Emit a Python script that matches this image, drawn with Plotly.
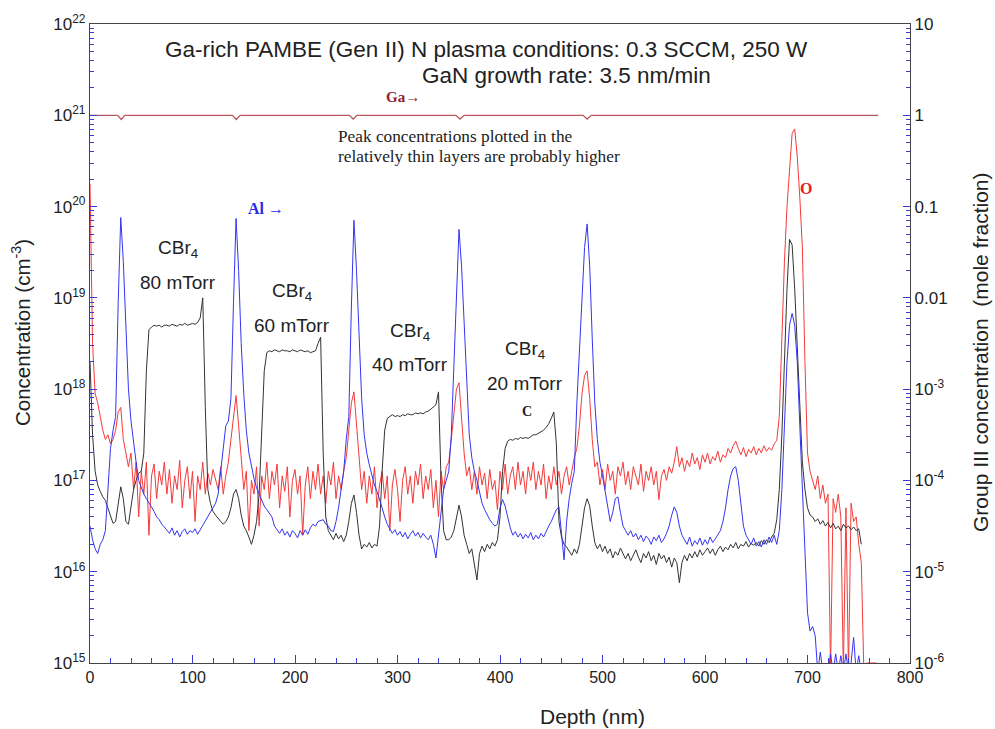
import plotly.graph_objects as go

# ---------------- data (log10 of concentration, cm^-3), sampled every 2.5 nm from 0 nm ----------------
DEPTH_STEP = 2.5

al_log = [
    16.5, 16.35, 16.25, 16.2, 16.3, 16.35, 16.45, 16.85, 17.35, 17.55,
    17.7, 18.95, 19.88, 19.4, 18.6, 18.0, 17.65, 17.4, 17.2, 17.0,
    16.92, 16.85, 16.8, 16.76, 16.71, 16.66, 16.6, 16.57, 16.52, 16.49,
    16.45, 16.42, 16.48, 16.4, 16.45, 16.38, 16.44, 16.47, 16.41, 16.45,
    16.43, 16.47, 16.41, 16.46, 16.5, 16.55, 16.6, 16.66, 16.7, 16.75,
    16.85, 17.1, 17.4, 17.6, 17.65, 17.9, 18.95, 19.87, 19.3, 18.5,
    17.95, 17.55, 17.3, 17.15, 17.02, 16.92, 16.85, 16.78, 16.72, 16.68,
    16.64, 16.6, 16.5, 16.46, 16.42, 16.47, 16.4, 16.44, 16.38, 16.45,
    16.42, 16.37, 16.45, 16.4, 16.46, 16.41, 16.48, 16.52, 16.5, 16.55,
    16.56, 16.57, 16.52, 16.5, 16.45, 16.44, 16.55, 16.7, 16.9, 17.1,
    17.45, 17.7, 18.9, 19.85, 19.3, 18.5, 17.9, 17.5, 17.3, 17.17,
    17.05, 16.95, 16.88, 16.8, 16.7, 16.6, 16.52, 16.47, 16.42, 16.46,
    16.4, 16.44, 16.38, 16.43, 16.36, 16.41, 16.45, 16.39, 16.43, 16.37,
    16.42, 16.38, 16.35, 16.4, 16.3, 16.15, 16.4, 16.65, 16.9, 17.0,
    17.1, 17.5, 18.2, 19.0, 19.75, 19.35, 18.7, 18.05, 17.5, 17.25,
    17.1, 17.0, 16.88, 16.75, 16.68, 16.62, 16.57, 16.53, 16.5, 16.52,
    16.7, 16.79, 16.72, 16.6, 16.48, 16.4, 16.44, 16.38, 16.42, 16.36,
    16.41, 16.37, 16.43, 16.35, 16.4, 16.36, 16.42, 16.38, 16.45, 16.5,
    16.55, 16.62, 16.68, 16.71, 16.4, 16.13, 16.55, 16.8, 16.97, 17.1,
    17.85, 18.4, 19.0, 19.55, 19.81, 19.35, 18.55, 17.85, 17.45, 17.2,
    17.05, 16.9, 16.72, 16.55, 16.65, 16.8, 16.82, 16.65, 16.5, 16.45,
    16.4, 16.45, 16.38, 16.42, 16.35, 16.4, 16.33, 16.39, 16.36, 16.3,
    16.38, 16.34, 16.4, 16.32, 16.36, 16.42, 16.5, 16.62, 16.71, 16.65,
    16.5, 16.4, 16.35, 16.3, 16.38, 16.28, 16.34, 16.3, 16.37, 16.29,
    16.35, 16.3, 16.38, 16.32, 16.36, 16.4, 16.45, 16.55, 16.7, 16.9,
    17.05, 17.13, 17.15, 17.0, 16.75, 16.5, 16.4, 16.35, 16.3, 16.37,
    16.28, 16.33, 16.27, 16.35, 16.3, 16.38, 16.32, 16.4, 16.3, 16.45,
    16.9, 17.6, 18.3, 18.7, 18.83, 18.7, 18.3, 17.6, 16.9, 16.2,
    15.55, 15.35, 15.4, 15.3, 14.9, 15.12, 14.9, 15.0, 14.9, 15.1,
    14.9, 15.1, 14.9, 15.08, 14.9, 15.1, 14.9, 15.0, 15.28, 14.9,
    15.08, 14.9,
]

c_log = [
    18.3, 17.5, 17.1, 16.95, 16.88, 16.82, 16.78, 16.7, 16.6, 16.53,
    16.55, 16.75, 16.93, 16.8, 16.55, 16.52, 16.7, 16.9, 17.0, 17.08,
    17.1, 17.3, 18.2, 18.65, 18.68, 18.7, 18.69, 18.7, 18.68, 18.7,
    18.7, 18.69, 18.71, 18.7, 18.69, 18.71, 18.7, 18.72, 18.7, 18.71,
    18.72, 18.71, 18.73, 18.78, 19.0, 17.8, 16.9, 16.75, 16.66, 16.62,
    16.58, 16.55, 16.52, 16.55, 16.6, 16.7, 16.85, 16.9, 16.8, 16.62,
    16.5, 16.45, 16.38, 16.3, 16.4, 16.55, 16.85, 17.5, 18.2, 18.4,
    18.42, 18.41, 18.43, 18.42, 18.41, 18.43, 18.42, 18.42, 18.41, 18.43,
    18.42, 18.41, 18.43, 18.42, 18.41, 18.42, 18.4, 18.41, 18.42, 18.5,
    18.57, 17.3, 16.6, 16.45, 16.4, 16.35, 16.42, 16.36, 16.4, 16.33,
    16.4, 16.55, 16.75, 16.84, 16.65, 16.4, 16.25, 16.3, 16.27, 16.32,
    16.26, 16.3, 16.28, 16.5, 17.1, 17.55, 17.68, 17.7, 17.72, 17.7,
    17.71, 17.7, 17.72, 17.71, 17.73, 17.72, 17.72, 17.74, 17.73, 17.74,
    17.73, 17.75, 17.76, 17.78, 17.8, 17.83, 17.97, 17.0, 16.45, 16.35,
    16.35, 16.38, 16.45, 16.6, 16.73, 16.6, 16.4, 16.3, 16.2, 16.25,
    16.1, 15.91, 16.2, 16.28, 16.22, 16.3, 16.25, 16.32, 16.28, 16.35,
    16.6, 17.1, 17.35, 17.43, 17.45, 17.44, 17.46, 17.45, 17.47, 17.46,
    17.47, 17.46, 17.48, 17.5, 17.5, 17.52, 17.53, 17.55, 17.58, 17.62,
    17.68, 17.75, 17.4, 16.55, 16.38, 16.3, 16.27, 16.22, 16.18, 16.25,
    16.2, 16.3, 16.5, 16.7, 16.8, 16.72, 16.5, 16.32, 16.25, 16.3,
    16.22, 16.28, 16.2, 16.25, 16.15, 16.22, 16.18, 16.26, 16.2, 16.14,
    16.2, 16.12, 16.18, 16.24, 16.16, 16.1, 16.2, 16.15, 16.22, 16.12,
    16.18, 16.08, 16.2, 16.14, 16.18, 16.1, 16.16, 16.05, 16.15, 16.1,
    15.88, 16.1, 16.18, 16.12, 16.2, 16.15, 16.22, 16.16, 16.24, 16.18,
    16.22, 16.26, 16.2, 16.25, 16.18, 16.24, 16.28, 16.22, 16.27, 16.24,
    16.3, 16.26, 16.32, 16.25, 16.3, 16.28, 16.33, 16.27, 16.31, 16.29,
    16.32, 16.28, 16.34, 16.3, 16.35, 16.32, 16.38, 16.42, 16.57, 16.9,
    17.5, 18.3, 19.1, 19.64, 19.58, 19.1, 18.5, 17.75, 17.2, 16.9,
    16.7, 16.62, 16.6, 16.55, 16.58, 16.52, 16.56, 16.5, 16.54, 16.48,
    16.53, 16.47, 16.5, 16.45, 16.52, 16.48, 16.5, 16.46, 16.49, 16.45,
    16.47, 16.3,
]

o_log = [
    20.25, 18.5, 17.95, 17.85, 17.7, 17.55, 17.45, 17.5, 17.4, 17.45,
    17.55, 17.75, 17.8, 17.45, 17.3, 17.15, 17.3, 16.9, 17.2, 16.6,
    17.1, 16.85, 17.2, 16.4, 17.05, 17.18, 16.8, 17.1, 16.95, 17.2,
    16.85, 17.12, 16.75, 17.05, 16.9, 17.22, 16.7, 17.0, 17.15, 16.8,
    17.1, 16.55, 17.05, 16.9, 17.2, 16.85, 17.08, 16.95, 17.12, 17.0,
    16.9, 17.15, 16.85, 17.05, 17.2, 17.45, 17.7, 17.93, 17.6, 17.2,
    16.9, 17.1, 16.45, 17.0, 16.85, 17.15, 16.5, 17.05, 16.9, 17.2,
    16.8, 17.1, 16.95, 17.18, 16.7, 17.05, 16.88, 17.15, 16.6, 17.0,
    17.12, 16.85, 17.05, 16.4, 16.95, 17.15, 16.8, 17.1, 16.9, 17.18,
    16.85, 17.05, 16.75, 17.1, 16.95, 17.2, 16.8, 17.05, 16.9, 17.1,
    17.25, 17.55, 17.85, 17.97, 17.6, 17.2, 16.9, 17.1, 16.75, 17.05,
    16.85, 17.15, 16.7, 16.95, 17.1, 16.8, 17.05, 16.45, 16.95, 17.12,
    16.9, 16.55, 17.0, 17.15, 16.85, 17.05, 16.75, 17.1, 16.95, 17.18,
    16.8, 17.05, 16.9, 17.12, 16.7, 17.0, 16.6, 17.1, 16.9, 17.15,
    17.2, 17.45, 17.75, 18.0, 18.07, 17.7, 17.3, 17.05, 17.15, 16.9,
    17.1, 16.85, 17.15, 16.95, 17.08, 16.8, 17.12, 16.9, 17.0, 16.68,
    17.1, 16.9, 17.18, 16.85, 17.05, 17.15, 16.9, 17.2, 16.95, 17.1,
    16.85, 17.15, 17.0, 17.2, 16.9, 17.1, 16.95, 17.18, 16.8, 17.05,
    16.9, 17.15, 16.95, 17.1, 16.85, 17.05, 17.15, 16.95, 17.12, 17.25,
    17.35, 17.6, 17.95, 18.15, 18.2, 17.9, 17.45, 17.15, 17.2, 16.95,
    17.12, 16.9, 17.18, 17.0, 17.1, 16.85, 17.15, 17.05, 17.2, 16.95,
    17.1, 16.9, 17.15, 17.05, 16.95, 17.18, 16.88, 17.1, 17.0, 17.15,
    16.95, 17.1, 16.79, 17.05, 17.12, 17.0, 17.15, 17.08, 17.2, 17.37,
    17.15, 17.25, 17.1, 17.22, 17.15, 17.3, 17.18, 17.25, 17.12, 17.28,
    17.2, 17.3, 17.18, 17.26, 17.22, 17.32, 17.2, 17.28, 17.25, 17.35,
    17.3, 17.38, 17.43, 17.35, 17.28, 17.36, 17.26, 17.34, 17.3, 17.37,
    17.28, 17.35, 17.3, 17.38, 17.32, 17.36, 17.33, 17.4, 17.44, 17.7,
    18.6, 19.4, 20.0, 20.45, 20.8, 20.85, 20.55, 20.1, 19.55, 18.3,
    17.3, 17.1, 17.0, 16.9, 17.05, 16.8, 16.95, 16.75, 16.85, 14.9,
    16.8, 16.65, 16.85, 16.6, 14.9, 16.7, 14.9, 16.75, 16.55, 16.6,
    16.3, 16.1, 14.9, 15.0, 15.0, 15.0, 15.0, 15.0,
]

# Ga (matrix) mole fraction on the right axis
ga_depth = [0, 27, 30.5, 34, 139, 142.8, 146.5, 253, 256.8, 260.5, 357, 361, 365, 481, 485, 489, 769]
ga_frac = [1, 1, 0.9, 1, 1, 0.9, 1, 1, 0.91, 1, 1, 0.91, 1, 1, 0.91, 1, 1]

left_tick_exp = [15, 16, 17, 18, 19, 20, 21, 22]
right_tick_vals = [1e-6, 1e-5, 1e-4, 1e-3, 0.01, 0.1, 1, 10]
right_tick_text = ["10<sup>-6</sup>", "10<sup>-5</sup>", "10<sup>-4</sup>", "10<sup>-3</sup>",
                   "0.01", "0.1", "1", "10"]
x_ticks = [0, 100, 200, 300, 400, 500, 600, 700, 800]


def series(logs):
    d = [i * DEPTH_STEP for i in range(len(logs))]
    return d, [10.0 ** v for v in logs]


BLUE = "#3535f2"
RED = "#f43a3a"
BLACK = "#333333"
GA = "#b9585e"
TICK = "#3a3ad6"
SANS = "Arial, Liberation Sans, sans-serif"
SERIF = "Times New Roman, Liberation Serif, serif"

fig = go.Figure()
for logs, col in [(o_log, RED), (c_log, BLACK), (al_log, BLUE)]:
    xd, yd = series(logs)
    fig.add_trace(go.Scatter(x=xd, y=yd, mode="lines", line=dict(color=col, width=1),
                             showlegend=False, hoverinfo="skip"))
fig.add_trace(go.Scatter(x=ga_depth, y=ga_frac, mode="lines", yaxis="y2",
                         line=dict(color=GA, width=1.3), showlegend=False, hoverinfo="skip"))

minor_left = [m * 10.0 ** e for e in range(15, 22) for m in range(2, 10)]
minor_right = [m * 10.0 ** e for e in range(-6, 1) for m in range(2, 10)]

L, R, T, B = 90, 85, 24, 66
W, H = 995, 729
PW, PH = W - L - R, H - T - B


def px(xp):
    return (xp - L) / PW


def py(yp):
    return (H - B - yp) / PH


fig.update_layout(
    width=W, height=H,
    margin=dict(l=L, r=R, t=T, b=B),
    paper_bgcolor="white", plot_bgcolor="white",
    font=dict(family=SANS, size=16, color="#222"),
    xaxis=dict(range=[0, 800], tickvals=x_ticks, ticks="inside", ticklen=8, tickwidth=1.2,
               tickcolor=TICK, showgrid=False, zeroline=False, showline=True, linecolor="#444",
               linewidth=1.3, mirror=True, tickfont=dict(size=16, color="#222"),
               minor=dict(dtick=20, ticks="inside", ticklen=5, tickcolor=TICK, showgrid=False)),
    yaxis=dict(type="log", range=[15, 22], tickvals=[10.0 ** e for e in left_tick_exp],
               ticktext=["10<sup>%d</sup>" % e for e in left_tick_exp],
               ticks="inside", ticklen=7, tickwidth=1.2, tickcolor=TICK, showgrid=False,
               zeroline=False, showline=True, linecolor="#444", linewidth=1.3, mirror=True,
               tickfont=dict(size=17, color="#222"),
               minor=dict(tickvals=minor_left, ticks="inside", ticklen=4, tickcolor=TICK, showgrid=False)),
    yaxis2=dict(type="log", range=[-6, 1], overlaying="y", side="right",
                tickvals=right_tick_vals, ticktext=right_tick_text,
                ticks="inside", ticklen=7, tickwidth=1.2, tickcolor=TICK, showgrid=False,
                zeroline=False, showline=True, linecolor="#444", linewidth=1.3,
                tickfont=dict(size=17, color="#222"),
                minor=dict(tickvals=minor_right, ticks="inside", ticklen=4, tickcolor=TICK, showgrid=False)),
)

ann = []


def text(t, x, y, size, family=SANS, color="#222", xanchor="center", angle=0):
    ann.append(dict(text=t, x=px(x), y=py(y), xref="paper", yref="paper", showarrow=False,
                    xanchor=xanchor, yanchor="middle", textangle=angle,
                    font=dict(size=size, family=family, color=color)))


text("Ga-rich PAMBE (Gen II) N plasma conditions: 0.3 SCCM, 250 W", 163, 49, 22.5, xanchor="left")
text("GaN growth rate: 3.5 nm/min", 420, 76, 22.5, xanchor="left")
text("<b>Ga→</b>", 403, 97, 15, family=SERIF, color="#8e2030")
text("Peak concentrations plotted in the", 336, 136, 17.3, family=SERIF, xanchor="left")
text("relatively thin layers are probably higher", 336, 156, 17.3, family=SERIF, xanchor="left")
text("<b>Al →</b>", 266, 208, 16, family=SERIF, color="#2a2ae0")
text("<b>O</b>", 806, 189, 16, family=SERIF, color="#e82020")
text("<b>C</b>", 527, 411, 14, family=SERIF, color="#222")
for cx, cy, p in [(178, 249, "80"), (292, 292, "60"), (410, 332, "40"), (525, 350, "20")]:
    text("CBr<sub>4</sub>", cx, cy, 19)
    text(p + " mTorr", cx, cy + 33, 19)

text("Concentration (cm<sup>-3</sup>)", 21, 333, 20.5, angle=-90)
text("Group III concentration  (mole fraction)", 980, 352, 21, angle=-90)
text("Depth (nm)", 592, 716, 21)

fig.update_layout(annotations=ann)
fig.write_html("out.html")
